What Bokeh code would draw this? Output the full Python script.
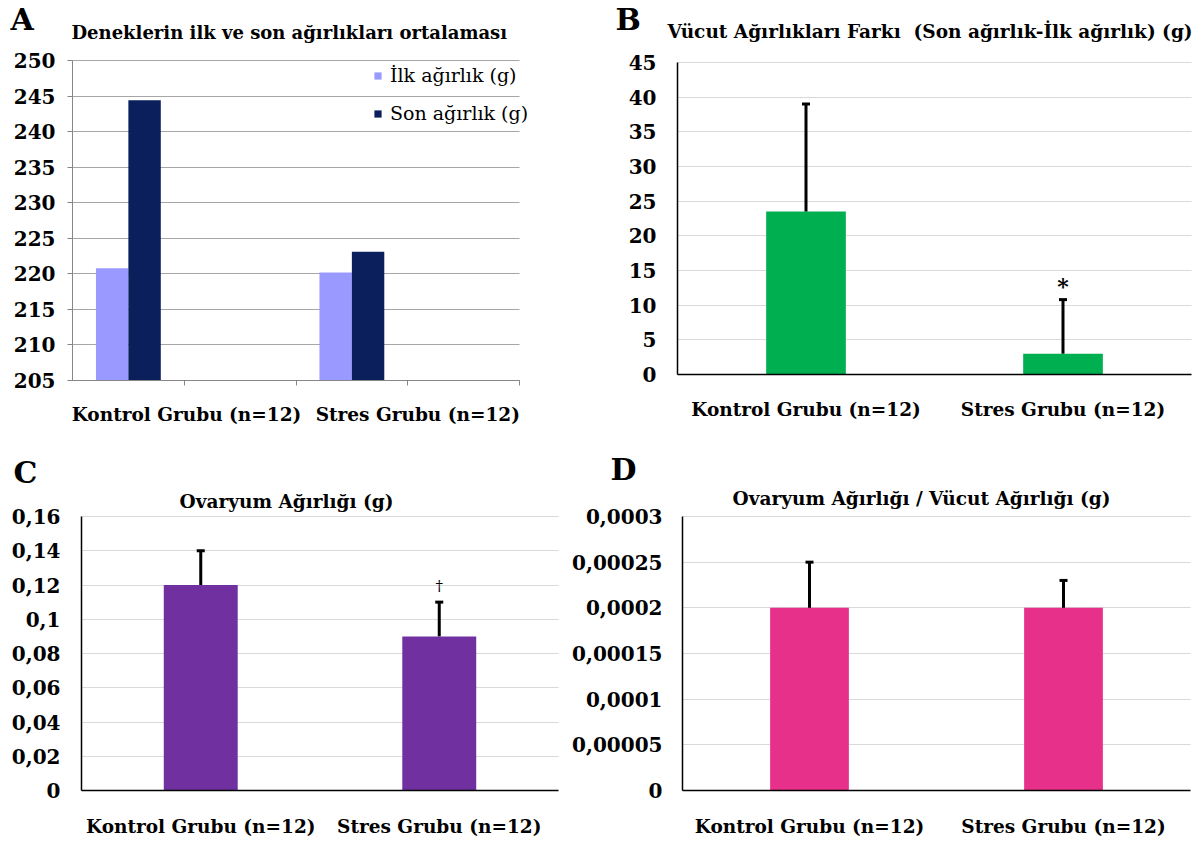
from bokeh.plotting import figure
from bokeh.models import (ColumnDataSource, Range1d, FixedTicker, Whisker, TeeHead, Label,
                          Legend, LegendItem, LinearAxis, Grid)
from bokeh.layouts import column, row
from bokeh.core.properties import value
from bokeh.embed import file_html
from bokeh.resources import INLINE

# ---------------- data ----------------
categories = ["Kontrol Grubu (n=12)", "Stres Grubu (n=12)"]

a_letter = "A"
a_title = "Deneklerin ilk ve son ağırlıkları ortalaması"
a_series = ["İlk ağırlık (g)", "Son ağırlık (g)"]
a_ilk = [220.8, 220.2]
a_son = [244.4, 223.1]
a_slots = [0, 2]            # group slot on a 4-slot axis
a_ticks = [205, 210, 215, 220, 225, 230, 235, 240, 245, 250]

b_letter = "B"
b_title = "Vücut Ağırlıkları Farkı \u00a0(Son ağırlık-İlk ağırlık) (g)"
b_mean = [23.5, 3.0]
b_err = [15.5, 7.8]
b_marks = ["", "*"]
b_ticks = [0, 5, 10, 15, 20, 25, 30, 35, 40, 45]

c_letter = "C"
c_title = "Ovaryum Ağırlığı (g)"
c_mean = [0.12, 0.09]
c_err = [0.02, 0.02]
c_marks = ["", "†"]
c_ticks = [0, 0.02, 0.04, 0.06, 0.08, 0.1, 0.12, 0.14, 0.16]
c_tick_labels = ["0", "0,02", "0,04", "0,06", "0,08", "0,1", "0,12", "0,14", "0,16"]

d_letter = "D"
d_title = "Ovaryum Ağırlığı / Vücut Ağırlığı (g)"
d_mean = [0.0002, 0.0002]
d_err = [0.00005, 0.00003]
d_ticks = [0, 0.00005, 0.0001, 0.00015, 0.0002, 0.00025, 0.0003]
d_tick_labels = ["0", "0,00005", "0,0001", "0,00015", "0,0002", "0,00025", "0,0003"]

FONT = "DejaVu Serif"
HAS_CROSS = "cross_bounds" in Grid.properties()


def span(pa, va, pb, vb, total):
    """Range whose pixel pa maps to va and pb maps to vb over a frame of 'total' px."""
    k = (vb - va) / (pb - pa)
    start = va - pa * k
    return Range1d(start, start + total * k)


def make_fig(w, h, xr, yr):
    p = figure(width=w, height=h, x_range=xr, y_range=yr, title=None,
               x_axis_location=None, y_axis_location=None,
               output_backend="svg", toolbar_location=None,
               min_border=0, min_border_left=0, min_border_right=0,
               min_border_top=0, min_border_bottom=0)
    p.grid.visible = False
    p.outline_line_color = None
    p.background_fill_color = "white"
    p.border_fill_color = "white"
    return p


def axis_style(axis_color, axis_width, tick_out, standoff, size):
    return dict(axis_line_color=axis_color, axis_line_width=axis_width,
                major_tick_line_color=axis_color, major_tick_in=0, major_tick_out=tick_out,
                minor_tick_line_color=None, major_label_standoff=standoff,
                major_label_text_font=FONT, major_label_text_font_style="bold",
                major_label_text_font_size=size, major_label_text_color="black")


def add_axes(p, yticks, ylabels, nslots, xticks, xlabels, grid_color, axis_color,
             axis_width, tick_out, y_standoff, x_standoff, x_marks=None):
    lo, hi = yticks[0], yticks[-1]
    yax = LinearAxis(fixed_location=0, bounds=(lo, hi), ticker=FixedTicker(ticks=yticks),
                     major_label_overrides=dict(zip(yticks, ylabels)),
                     **axis_style(axis_color, axis_width, tick_out, y_standoff, "20px"))
    p.add_layout(yax, "left")
    if x_marks is not None:
        # separate tick marks (no labels) from the category labels
        mark_ax = LinearAxis(fixed_location=lo, bounds=(0, nslots),
                             ticker=FixedTicker(ticks=x_marks),
                             major_label_overrides={t: "" for t in x_marks},
                             **axis_style(axis_color, axis_width, tick_out, 0, "1px"))
        p.add_layout(mark_ax, "below")
        xax = LinearAxis(fixed_location=lo, bounds=(0, nslots), ticker=FixedTicker(ticks=xticks),
                         major_label_overrides=dict(zip(xticks, xlabels)),
                         **axis_style(axis_color, axis_width, 0, x_standoff + tick_out, "18.5px"))
        xax.major_tick_line_color = None
        xax.axis_line_color = None
    else:
        xax = LinearAxis(fixed_location=lo, bounds=(0, nslots), ticker=FixedTicker(ticks=xticks),
                         major_label_overrides=dict(zip(xticks, xlabels)),
                         **axis_style(axis_color, axis_width, tick_out, x_standoff, "18.5px"))
    p.add_layout(xax, "below")
    if HAS_CROSS:
        g = Grid(dimension=1, ticker=FixedTicker(ticks=yticks), bounds=(lo, hi),
                 cross_bounds=(0, nslots), grid_line_color=grid_color, grid_line_width=1)
        p.add_layout(g, "center")
    else:
        p.segment(x0=[0] * len(yticks), x1=[nslots] * len(yticks), y0=yticks, y1=yticks,
                  line_color=grid_color, line_width=1, level="underlay")


def add_text(p, text, x, y, size, align="left", style="bold"):
    p.add_layout(Label(x=x, y=y, x_units="screen", y_units="screen", text=text,
                       text_font=FONT, text_font_style=style, text_font_size=size,
                       text_align=align, text_baseline="alphabetic", text_color="black"))


def error_panel(p, means, errs, color, marks=None, mark_size="20px", mark_style="bold", mark_off=2):
    xs = [i + 0.5 for i in range(len(categories))]
    uppers = [m + e for m, e in zip(means, errs)]
    src = ColumnDataSource(dict(x=xs, val=means, upper=uppers,
                                mark=marks if marks else [""] * len(categories)))
    p.vbar(x="x", top="val", bottom=0, width=0.31, source=src,
           fill_color=color, line_color=None)
    w = Whisker(source=src, base="x", lower="val", upper="upper", dimension="height",
                line_width=3, line_color="black", level="annotation",
                upper_head=TeeHead(size=8, line_width=3, line_color="black"),
                lower_head=None)
    p.add_layout(w)
    if marks:
        p.text(x="x", y="upper", text="mark", source=src, text_font=value(FONT),
               text_font_style=mark_style, text_font_size=mark_size, text_align="center",
               text_baseline="bottom", y_offset=-mark_off, text_color="black")


cat_ticks = [i + 0.5 for i in range(len(categories))]

# ---------------- Panel A ----------------
WA, HA = 600, 440
pA = make_fig(WA, HA, span(72, 0, 519, 4, WA), span(HA - 380, 205, HA - 60, 250, HA))
a_label_pos = [1.02, 3.09]   # where the group names sit on the 4-slot axis
add_axes(pA, a_ticks, [str(t) for t in a_ticks], 4, a_label_pos, categories,
         "#a6a6a6", "#868686", 1, 5, 12, 18, x_marks=[1, 2, 3, 4])
srcA = ColumnDataSource(dict(
    x_ilk=[s + 0.5 - 0.145 for s in a_slots],
    x_son=[s + 0.5 + 0.145 for s in a_slots],
    ilk=a_ilk, son=a_son))
r_ilk = pA.vbar(x="x_ilk", top="ilk", bottom=205, width=0.29, source=srcA,
                fill_color="#9999FF", line_color=None)
r_son = pA.vbar(x="x_son", top="son", bottom=205, width=0.29, source=srcA,
                fill_color="#0A1F5C", line_color=None)
legA = Legend(items=[LegendItem(label=a_series[0], renderers=[r_ilk]),
                     LegendItem(label=a_series[1], renderers=[r_son])],
              location=(373, HA - 124), orientation="vertical",
              glyph_width=9, glyph_height=9, label_standoff=8, spacing=16,
              padding=0, margin=0, border_line_color=None, background_fill_alpha=0,
              label_text_font=FONT, label_text_font_size="19px", label_height=22,
              label_text_color="black")
pA.add_layout(legA)
add_text(pA, a_letter, 10, HA - 19, "30px")
add_text(pA, a_title, 71, HA - 32, "18px")

# ---------------- Panel B ----------------
WB, HB = 600, 440
pB = make_fig(WB, HB, span(77, 0, 591, 2, WB), span(HB - 374, 0, HB - 62, 45, HB))
add_axes(pB, b_ticks, [str(t) for t in b_ticks], 2, cat_ticks, categories,
         "#d9d9d9", "black", 1.5, 0, 21, 24)
error_panel(pB, b_mean, b_err, "#00B050", b_marks, "22px", "bold", 1)
add_text(pB, b_letter, 15, HB - 19, "30px")
add_text(pB, b_title, 67, HB - 31, "18.5px")

# ---------------- Panel C ----------------
WC, HC = 570, 405
pC = make_fig(WC, HC, span(81, 0, 558, 2, WC), span(HC - 350, 0, HC - 76, 0.16, HC))
add_axes(pC, c_ticks, c_tick_labels, 2, cat_ticks, categories,
         "#d9d9d9", "black", 1.5, 0, 21, 25)
error_panel(pC, c_mean, c_err, "#7030A0", c_marks, "15px", "normal", 7)
add_text(pC, c_letter, 13, HC - 32, "30px")
add_text(pC, c_title, 286, HC - 61, "18.5px", align="center")

# ---------------- Panel D ----------------
WD, HD = 630, 405
pD = make_fig(WD, HD, span(112, 0, 620, 2, WD), span(HD - 350, 0, HD - 76, 0.0003, HD))
add_axes(pD, d_ticks, d_tick_labels, 2, cat_ticks, categories,
         "#d9d9d9", "black", 1.5, 0, 20, 25)
error_panel(pD, d_mean, d_err, "#E6308A")
add_text(pD, d_letter, 40, HD - 29, "30px")
add_text(pD, d_title, 351, HD - 58, "18.5px", align="center")

layout = column(row(pA, pB), row(pC, pD))
open("out.html", "w").write(file_html(layout, INLINE))
